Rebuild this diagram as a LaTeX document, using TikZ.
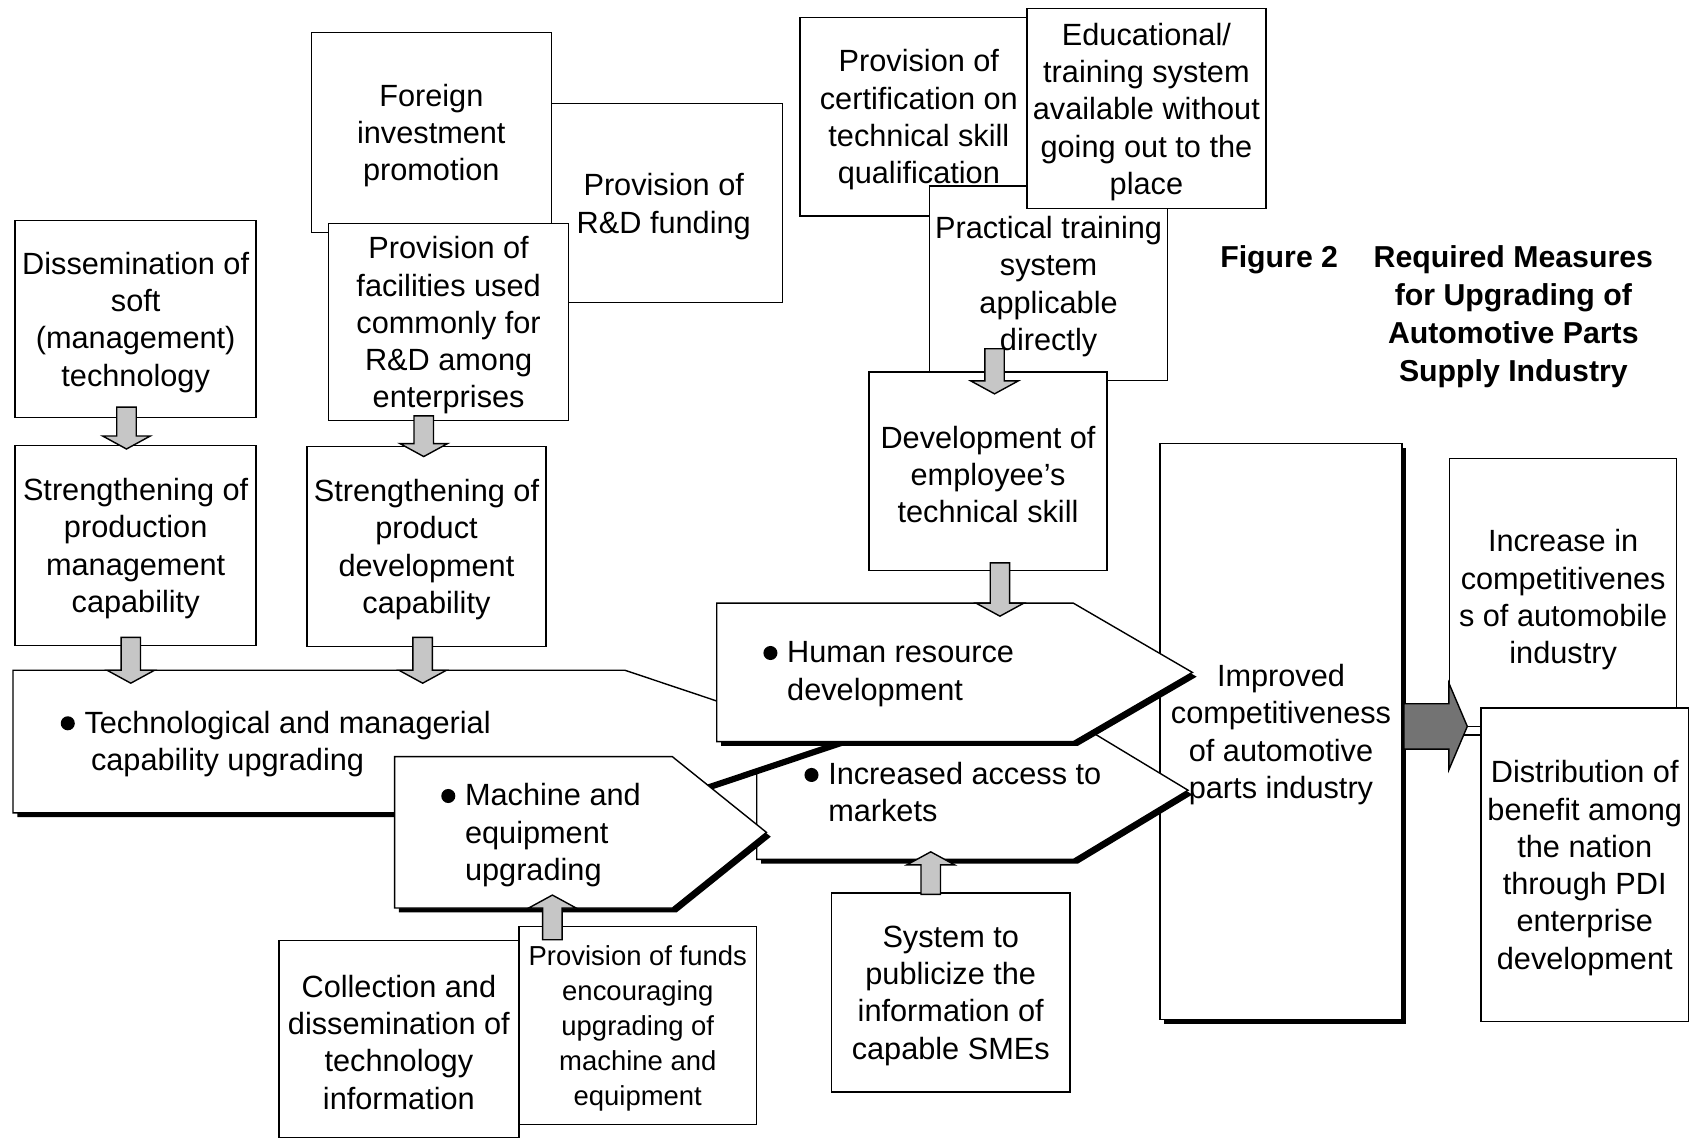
\documentclass[tikz,border=0pt]{standalone}
\usepackage{fontspec}
\setmainfont{Liberation Sans}
\usetikzlibrary{calc,shadows}

% bullet that hangs to the left of the first line
\newcommand{\bul}{\llap{\tikz[baseline=-9pt]\fill (0,0) circle (6.5pt);\hspace{9pt}}}

% vertical block arrow: shaft 18 wide, head 44 wide and 12 long
\newcommand{\blockarr}[2]{%
  \draw[blockarrow] let \p1=#1, \p2=#2, \n1={ifthenelse(\y2>\y1,1,-1)} in
    ({\x1-9pt},\y1) -- ({\x1-9pt},{\y2-(\n1)*12pt}) -- ({\x1-22pt},{\y2-(\n1)*12pt})
    -- (\x1,\y2) -- ({\x1+22pt},{\y2-(\n1)*12pt}) -- ({\x1+9pt},{\y2-(\n1)*12pt})
    -- ({\x1+9pt},\y1) -- cycle;}

% framed box with its centred text set slightly low
\newcommand{\tbox}[6][]{%
  \node[box={#4}{#5}] (#2) at (#3) {};
  \node[boxtext, #1] (#2-t) at ($(#2.center)+(0,3)$) {#6};}

\tikzset{
  txt/.style={font=\fontsize{28.4pt}{34.5pt}\selectfont},
  shad/.style={drop shadow={shadow xshift=4pt, shadow yshift=-4pt, fill=black, opacity=1}},
  box/.style 2 args={draw, fill=white, line width=1.3pt, rectangle, inner sep=0pt,
    minimum width=#1, minimum height=#2},
  boxtext/.style={align=center, inner sep=0pt, txt},
  pent/.style={draw, fill=white, line width=1.3pt, line join=miter, shad},
  ptxt/.style={anchor=west, align=left, inner sep=0pt, txt},
  blockarrow/.style={draw, line width=1.3pt, fill=gray!45, line join=miter},
  bigarrow/.style={draw, line width=1.3pt, fill=black!55, line join=miter},
  title/.style={inner sep=0pt, font=\bfseries\fontsize{28pt}{35pt}\selectfont}
}

\begin{document}
\begin{tikzpicture}[x=1pt, y=-1pt]
\useasboundingbox[fill=white] (0,0) rectangle (1568,1056);

% ---- upper left: R&D related measures
\tbox{rdf}{614,188}{220}{184}{Provision of\\R\&D funding}
\tbox{fdi}{399,122.5}{222}{185}{Foreign\\investment\\promotion}
\tbox{fac}{415,298}{222}{182}{Provision of\\facilities used\\commonly for\\R\&D among\\enterprises}
\tbox{dis}{125.5,295}{223}{182}{Dissemination of\\soft\\(management)\\technology}
\tbox{spm}{125.5,504.5}{223}{185}{Strengthening of\\production\\management\\capability}
\tbox{spd}{394.5,505.5}{221}{185}{Strengthening of\\product\\development\\capability}

% ---- upper middle: skill related measures
\tbox{cert}{850,108}{220}{184}{Provision of\\certification on\\technical skill\\qualification}
\tbox{prac}{970,262}{220}{180}{Practical training\\system\\applicable\\directly}
\tbox{edu}{1060.5,100.5}{221}{185}{Educational/\\training system\\available without\\going out to the\\place}
\tbox{dev}{914,436}{220}{184}{Development of\\employee's\\technical skill}

% ---- central result box
\node[box={224}{533}, shad] (imp) at (1185,676.5) {};
\node[boxtext] (imp-t) at ($(imp.center)+(0,3)$) {Improved\\competitiveness\\of automotive\\parts industry};

% ---- the four policy arrows
\coordinate (mkt-sw) at (700,795);
\filldraw[pent] (700,667) -- (993,667) -- (1099,731) -- (993,795) -- (mkt-sw) -- cycle;
\node[ptxt] (mkttext) at (766,733) {\bul Increased access to\\markets};

\coordinate (tech-nw) at (12,620);
\filldraw[pent] (tech-nw) -- (578,620) -- (775,686) -- (578,752) -- (12,752) -- cycle;
\node[ptxt] (techtext) at (78,688) {\bul Technological and managerial\\\hspace*{6pt}capability upgrading};

\coordinate (mch-sw) at (365,840);
\filldraw[pent] (365,700) -- (622,700) -- (709,770) -- (622,840) -- (mch-sw) -- cycle;
\node[ptxt] (mchtext) at (430,772.5) {\bul Machine and\\equipment\\upgrading};

\coordinate (hum-nw) at (663,558);
\filldraw[pent] (hum-nw) -- (993,558) -- (1103,622) -- (993,686) -- (663,686) -- cycle;
\node[ptxt] (humtext) at (728,623.5) {\bul Human resource\\development};

% ---- outcomes on the right
\tbox{inc}{1446,552}{210}{256}{Increase in\\competitivenes\\s of automobile\\industry}
\tbox{dist}{1466,800}{192}{290}{Distribution of\\benefit among\\the nation\\through PDI\\enterprise\\development}

% ---- lower measures
\tbox{sys}{879.5,918}{221}{184}{System to\\publicize the\\information of\\capable SMEs}
\tbox{col}{369,961}{222}{182}{Collection and\\dissemination of\\technology\\information}
\tbox[font=\fontsize{25.4pt}{32.5pt}\selectfont]{fund}{590,948.5}{220}{183}
  {Provision of funds\\encouraging\\upgrading of\\machine and\\equipment}

% ---- block arrows
\blockarr{($(dis.south)+(-8.5,-10)$)}{($(spm.north)+(-8.5,4)$)}
\blockarr{($(fac.south)+(-23,-5)$)}{($(spd.north)+(-2.5,10)$)}
\blockarr{($(spm.south)+(-4.5,-8)$)}{($(spm.south |- tech-nw)+(-4.5,12)$)}
\blockarr{($(spd.south)+(-3.5,-9)$)}{($(spd.south |- tech-nw)+(-3.5,12)$)}
\blockarr{($(prac.south)+(-50,-30)$)}{($(dev.north)+(6,21)$)}
\blockarr{($(dev.south)+(11,-8)$)}{($(dev.south |- hum-nw)+(11,12)$)}
\blockarr{($(sys.north)+(-18.5,2)$)}{($(sys.north |- mkt-sw)+(-18.5,-7)$)}
\blockarr{($(fund.north)+(-79,13)$)}{($(fund.north |- mch-sw)+(-79,-12)$)}

% ---- wide arrow towards the outcomes
\coordinate (bigtip) at ($(dist.west |- imp.east)+(-12,-4.5)$);
\draw[bigarrow] let \p1=($(imp.east)+(1,-4.5)$), \p2=(bigtip) in
  (\x1,{\y1+21pt}) -- ({\x2-17pt},{\y1+21pt}) -- ({\x2-17pt},{\y1+40pt}) -- (\x2,\y1)
  -- ({\x2-17pt},{\y1-40pt}) -- ({\x2-17pt},{\y1-21pt}) -- (\x1,{\y1-21pt}) -- cycle;
\draw[line width=1.3pt] (bigtip) -- (bigtip -| dist.west);

% ---- caption
\node[title] (caption) at (1329,293) {\begin{tabular}{@{}l@{\hspace{33pt}}c@{}}
  Figure 2 & Required Measures\\ & for Upgrading of\\ & Automotive Parts\\ & Supply Industry
  \end{tabular}};
\end{tikzpicture}
\end{document}
